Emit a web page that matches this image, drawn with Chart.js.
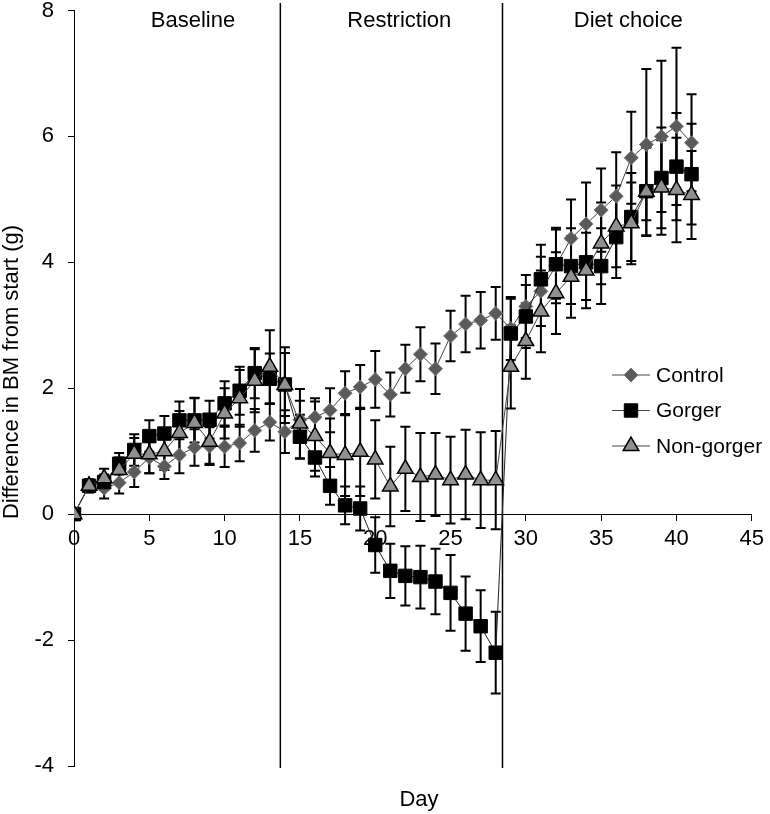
<!DOCTYPE html>
<html>
<head>
<meta charset="utf-8">
<script src="https://cdn.jsdelivr.net/npm/chart.js@4"></script>
<style>
  body { margin: 0; background: white; }
</style>
</head>
<body>
<canvas id="grafico" width="770" height="814"></canvas>
<script>
let ctx = document.getElementById('grafico')

// dados
const days = [0,1,2,3,4,5,6,7,8,9,10,11,12,13,14,15,16,17,18,19,20,21,22,23,24,25,26,27,28,29,30,31,32,33,34,35,36,37,38,39,40,41]

const control = [0,0.45,0.41,0.50,0.67,0.90,0.76,0.94,1.06,1.08,1.07,1.13,1.33,1.46,1.31,1.50,1.54,1.65,1.92,2.02,2.14,1.90,2.31,2.54,2.31,2.83,3.02,3.08,3.19,2.95,3.30,3.54,3.95,4.38,4.61,4.83,5.05,5.66,5.87,6.00,6.16,5.90]
const controlErr = [0,0.10,0.16,0.17,0.24,0.25,0.20,0.29,0.29,0.30,0.32,0.29,0.34,0.29,0.34,0.30,0.30,0.35,0.35,0.35,0.45,0.35,0.38,0.43,0.40,0.40,0.45,0.45,0.42,0.50,0.50,0.55,0.60,0.62,0.66,0.66,0.70,0.73,1.20,1.20,1.25,0.77]

const gorger = [0,0.45,0.51,0.80,1.02,1.24,1.28,1.49,1.49,1.50,1.76,1.96,2.24,2.15,2.06,1.23,0.90,0.45,0.14,0.09,-0.49,-0.90,-0.98,-1.00,-1.07,-1.25,-1.58,-1.78,-2.20,2.87,3.14,3.73,3.97,3.94,4.00,3.94,4.40,4.72,5.13,5.34,5.52,5.40]
const gorgerErr = [0,0.10,0.12,0.17,0.25,0.25,0.28,0.30,0.35,0.30,0.35,0.38,0.40,0.40,0.50,0.35,0.30,0.30,0.30,0.35,0.44,0.43,0.47,0.50,0.52,0.60,0.59,0.57,0.65,0.55,0.50,0.55,0.55,0.60,0.60,0.60,0.65,0.70,0.70,0.80,0.85,0.80]

const nonGorger = [0,0.45,0.57,0.70,0.96,0.95,1.00,1.29,1.45,1.15,1.60,1.84,2.12,2.34,2.05,1.44,1.24,0.97,0.94,0.99,0.87,0.44,0.72,0.59,0.63,0.54,0.63,0.54,0.54,2.34,2.75,3.22,3.51,3.77,3.87,4.30,4.57,4.62,5.12,5.19,5.15,5.07]
const nonGorgerErr = [0,0.10,0.15,0.20,0.25,0.30,0.30,0.35,0.40,0.35,0.40,0.45,0.50,0.58,0.60,0.55,0.55,0.55,0.65,0.70,0.62,0.63,0.67,0.70,0.66,0.69,0.71,0.76,0.78,0.66,0.60,0.65,0.65,0.65,0.60,0.65,0.65,0.65,0.70,0.75,0.83,0.70]

const phaseBreaks = [13.7, 28.45]
const phaseLabels = ['Baseline', 'Restriction', 'Diet choice']
const phaseLabelDays = [7.9, 21.6, 36.8]

const seriesNames = ['Control', 'Gorger', 'Non-gorger']

const fonte = 'Liberation Sans, Arial, sans-serif'

function pontos(vals) {
  return days.map((d, i) => ({ x: d, y: vals[i] }))
}

const data = {
  datasets: [
    {
      label: seriesNames[0],
      data: pontos(control),
      erros: controlErr,
      pointStyle: 'rectRot',
      pointRadius: 7,
      backgroundColor: '#5a5a5a',
      pointBorderColor: '#7a7a7a',
      pointBorderWidth: 1,
      borderColor: '#444',
      borderWidth: 1,
      order: 3
    },
    {
      label: seriesNames[1],
      data: pontos(gorger),
      erros: gorgerErr,
      pointStyle: 'rect',
      pointRadius: 9.5,
      backgroundColor: '#000',
      pointBorderColor: '#000',
      pointBorderWidth: 1,
      borderColor: '#222',
      borderWidth: 1,
      order: 2
    },
    {
      label: seriesNames[2],
      data: pontos(nonGorger),
      erros: nonGorgerErr,
      pointStyle: 'triangle',
      pointRadius: 9,
      backgroundColor: '#909090',
      pointBorderColor: '#000',
      pointBorderWidth: 1.5,
      borderColor: '#444',
      borderWidth: 1,
      order: 1
    }
  ]
}

// barras de erro + linhas das fases
const extras = {
  id: 'extras',
  beforeDatasetsDraw(chart) {
    const c = chart.ctx
    const xs = chart.scales.x, ys = chart.scales.y
    const area = chart.chartArea
    c.save()
    c.strokeStyle = '#000'
    c.lineWidth = 1.5
    phaseBreaks.forEach(b => {
      const px = xs.getPixelForValue(b)
      c.beginPath()
      c.moveTo(px, 3)
      c.lineTo(px, area.bottom + 2)
      c.stroke()
    })
    c.lineWidth = 2
    chart.data.datasets.forEach(ds => {
      ds.data.forEach((p, i) => {
        const e = ds.erros[i]
        if (!e) return
        const px = xs.getPixelForValue(p.x)
        const y1 = ys.getPixelForValue(p.y + e)
        const y2 = ys.getPixelForValue(p.y - e)
        c.beginPath()
        c.moveTo(px, y1); c.lineTo(px, y2)
        c.moveTo(px - 5, y1); c.lineTo(px + 5, y1)
        c.moveTo(px - 5, y2); c.lineTo(px + 5, y2)
        c.stroke()
      })
    })
    c.restore()
  },
  afterDraw(chart) {
    const c = chart.ctx
    const xs = chart.scales.x
    c.save()
    c.fillStyle = '#000'
    c.font = '22px ' + fonte
    c.textAlign = 'center'
    c.textBaseline = 'middle'
    phaseLabels.forEach((t, i) => {
      c.fillText(t, xs.getPixelForValue(phaseLabelDays[i]), 21)
    })
    // titulo eixo x
    c.fillText('Day', 419, 800)
    // titulo eixo y
    c.save()
    c.translate(12, 372)
    c.rotate(-Math.PI / 2)
    c.fillText('Difference in BM from start (g)', 0, 0)
    c.restore()

    // legenda
    c.font = '21px ' + fonte
    c.textAlign = 'left'
    chart.data.datasets.forEach((ds, i) => {
      const y = 375 + i * 35.5
      c.strokeStyle = '#444'
      c.lineWidth = 1
      c.beginPath()
      c.moveTo(612, y); c.lineTo(650, y)
      c.stroke()
      c.fillStyle = ds.backgroundColor
      c.strokeStyle = ds.pointBorderColor
      c.lineWidth = ds.pointBorderWidth
      Chart.helpers.drawPoint(c, { pointStyle: ds.pointStyle, radius: ds.pointRadius, borderWidth: ds.pointBorderWidth, rotation: 0 }, 631, y)
      c.fillStyle = '#000'
      c.fillText(ds.label, 656, y + 1)
    })
    c.restore()
  }
}

const chart = new Chart(ctx, {
  type: 'line',
  data: data,
  options: {
    responsive: false,
    animation: false,
    layout: { padding: { left: 0, right: 13, top: 10, bottom: 48 } },
    plugins: { legend: { display: false }, tooltip: { enabled: false } },
    scales: {
      x: {
        type: 'linear',
        min: 0,
        max: 45,
        position: { y: 0 },
        ticks: { stepSize: 5, color: '#000', font: { size: 22, family: fonte }, padding: 6, maxRotation: 0 },
        grid: { drawOnChartArea: false, tickLength: 6, tickColor: '#000' },
        border: { color: '#000', width: 1 },
        afterFit(scale) { scale.paddingTop = 0; scale.paddingBottom = 0 }
      },
      y: {
        min: -4,
        max: 8,
        ticks: { stepSize: 2, color: '#000', font: { size: 22, family: fonte }, padding: 14 },
        grid: { drawOnChartArea: false, tickLength: 6, tickColor: '#000' },
        border: { color: '#000', width: 1 },
        afterFit(scale) { scale.width = 74; scale.paddingTop = 0; scale.paddingBottom = 0 }
      }
    }
  },
  plugins: [extras]
})
</script>
</body>
</html>
